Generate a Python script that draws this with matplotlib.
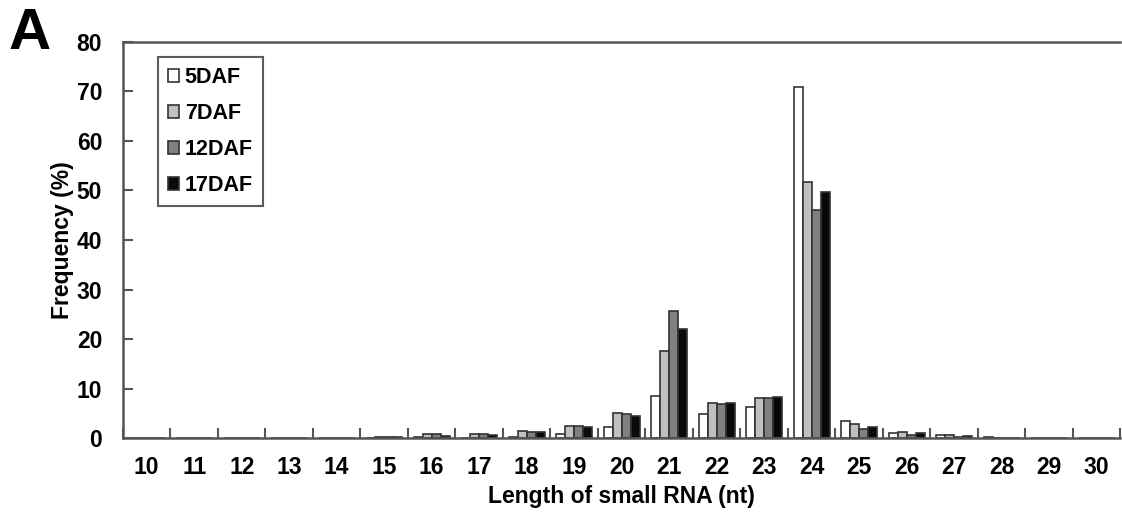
import matplotlib.pyplot as plt
import numpy as np

plt.rcParams['font.family'] = ['Liberation Sans', 'DejaVu Sans']
plt.rcParams['font.weight'] = 'bold'

# Length of small RNA (nt)
lengths = list(range(10, 31))
stages = ["5DAF", "7DAF", "12DAF", "17DAF"]

# Frequency (%) per stage
daf5 = [0.1, 0.1, 0.1, 0.1, 0.1, 0.1, 0.2, 0.1, 0.3, 0.8, 2.3, 8.5, 4.8, 6.2, 71.0, 3.4, 1.0, 0.6, 0.3, 0.1, 0.1]
daf7 = [0.1, 0.1, 0.1, 0.1, 0.1, 0.3, 0.8, 0.8, 1.4, 2.5, 5.1, 17.5, 7.0, 8.1, 51.7, 2.9, 1.3, 0.6, 0.1, 0.1, 0.1]
daf12 = [0.1, 0.1, 0.1, 0.1, 0.1, 0.3, 0.8, 0.8, 1.2, 2.5, 4.9, 25.7, 6.8, 8.1, 46.0, 1.8, 0.6, 0.3, 0.1, 0.1, 0.1]
daf17 = [0.1, 0.1, 0.1, 0.1, 0.1, 0.2, 0.4, 0.6, 1.2, 2.2, 4.4, 22.0, 7.0, 8.3, 49.6, 2.2, 1.0, 0.5, 0.1, 0.1, 0.1]

series = [daf5, daf7, daf12, daf17]
colors = ["white", "#c0c0c0", "#808080", "#0a0a0a"]

fig = plt.figure(figsize=(11.22, 5.12), dpi=100)
ax = fig.add_axes([0.1096, 0.1445, 0.889, 0.7735])

x = np.arange(len(lengths))
w = 0.19
for i, (vals, c) in enumerate(zip(series, colors)):
    ax.bar(x + (i - 1.5) * w, vals, width=w, color=c, edgecolor="#333333",
           linewidth=1.2, label=stages[i])

ax.set_xlim(-0.5, len(lengths) - 0.5)
ax.set_ylim(0, 80)
ax.set_yticks(range(0, 81, 10))
ax.set_xticks(x)
ax.set_xticklabels([str(v) for v in lengths])
ax.set_xticks(np.arange(len(lengths) + 1) - 0.5, minor=True)
ax.tick_params(axis="x", which="major", length=0, labelsize=16.5, pad=13)
ax.tick_params(axis="x", which="minor", direction="in", length=7, width=1.5, color="#555555")
ax.tick_params(axis="y", direction="in", length=7, width=1.5, color="#555555", labelsize=16.5, pad=15)

for s in ["left", "bottom", "top"]:
    ax.spines[s].set_color("#555555")
    ax.spines[s].set_linewidth(1.8)
ax.spines["right"].set_visible(False)

ax.set_xlabel("Length of small RNA (nt)", fontsize=16.5, fontweight="bold", labelpad=4)
ax.set_ylabel("Frequency (%)", fontsize=16.5, fontweight="bold", labelpad=2)

leg = ax.legend(loc="upper left", bbox_to_anchor=(0.035, 0.962), fontsize=15.5,
                frameon=True, fancybox=False, edgecolor="#333333",
                handlelength=0.55, handleheight=0.55, handletextpad=0.25,
                labelspacing=0.7, borderpad=0.45, borderaxespad=0)
leg.get_frame().set_linewidth(1.5)
for t in leg.get_texts():
    t.set_fontweight("bold")

fig.text(0.008, 0.905, "A", fontsize=42, fontweight="bold")

plt.savefig("out.png")
